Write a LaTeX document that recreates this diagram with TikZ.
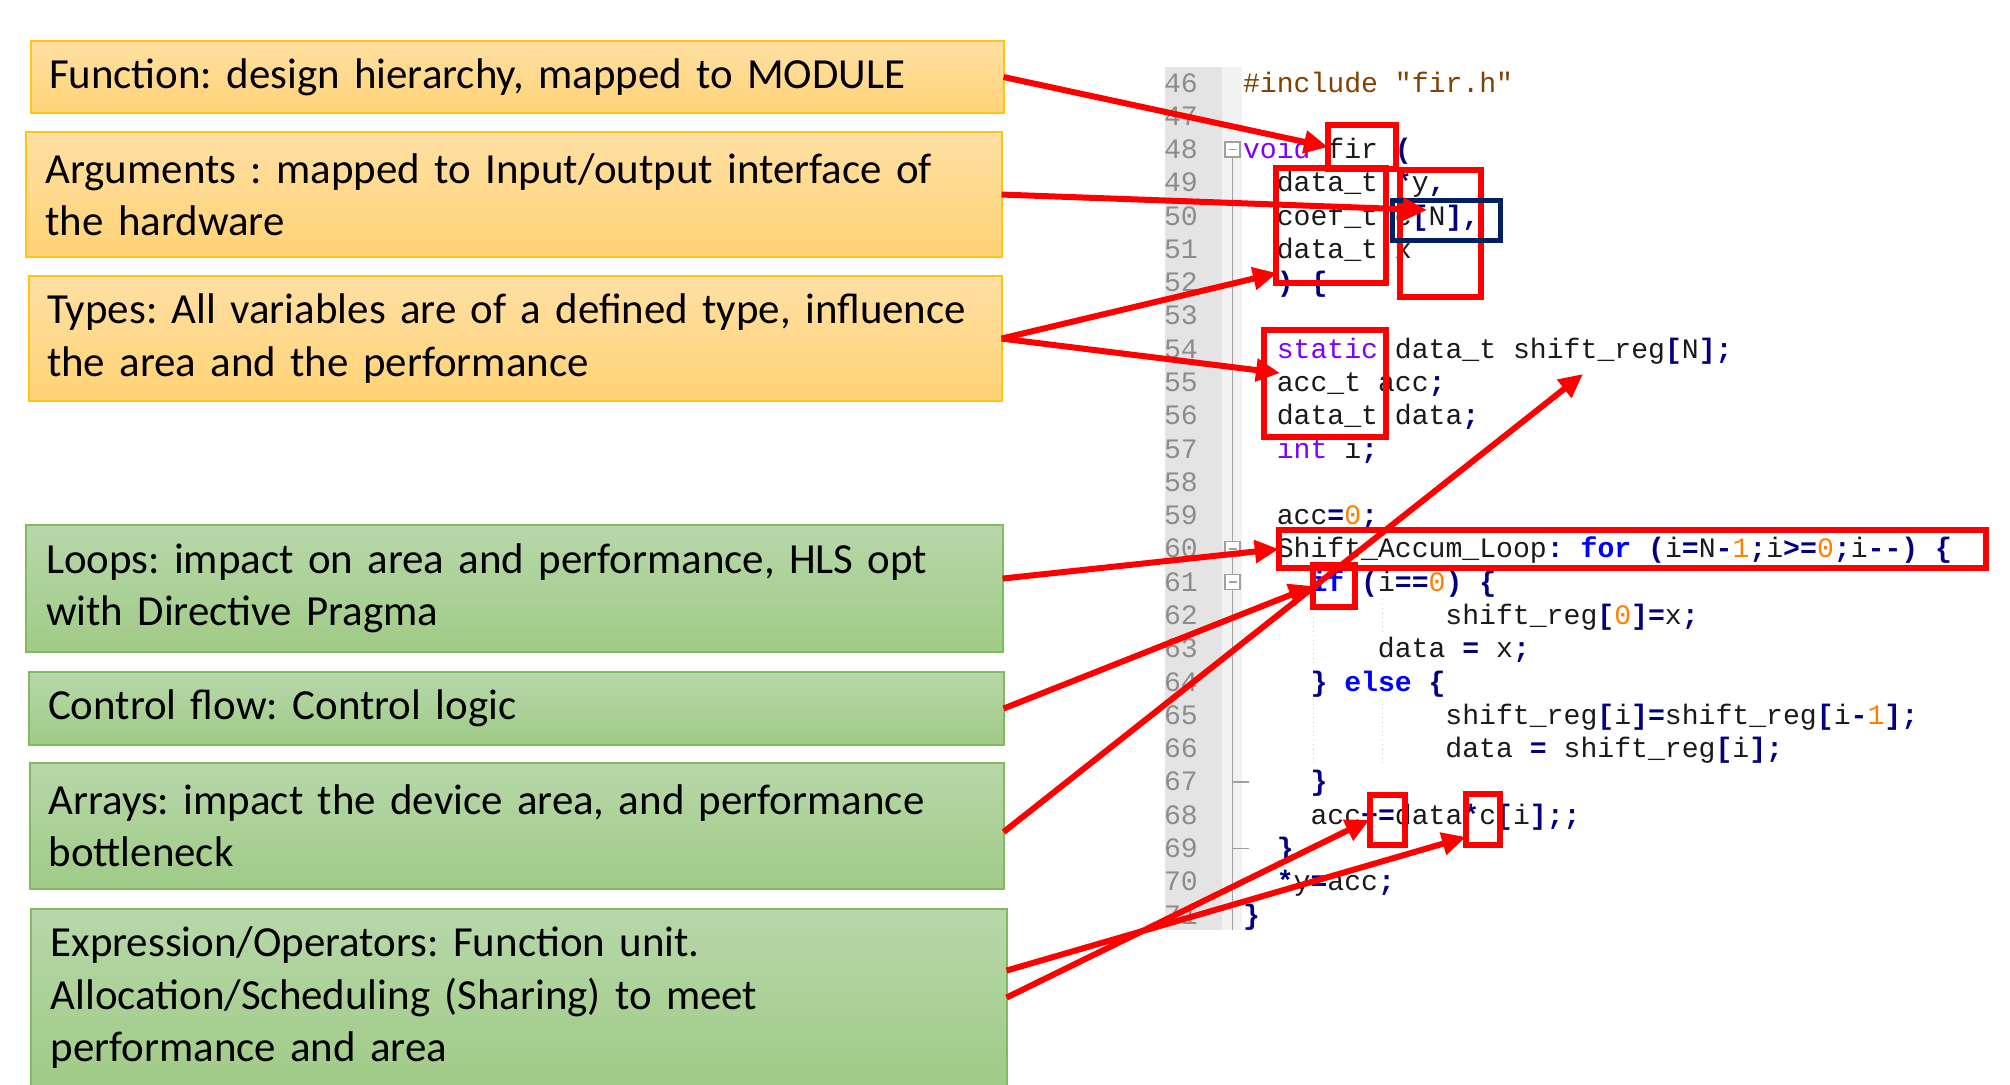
\documentclass[tikz,border=0pt]{standalone}
\usepackage{fontspec}
\setmainfont{Carlito}
\newfontfamily\codefont{Liberation Mono}
\usetikzlibrary{arrows.meta}
\usetikzlibrary{positioning}
\usetikzlibrary{math}
\frenchspacing
\definecolor{goldtop}{HTML}{FFE0A3}
\definecolor{goldbot}{HTML}{FFD276}
\definecolor{goldln}{HTML}{FFC414}
\definecolor{leaftop}{HTML}{B7D7A9}
\definecolor{leafbot}{HTML}{A0CB87}
\definecolor{leafln}{HTML}{82BB5F}
\definecolor{npptype}{HTML}{8000FF}
\definecolor{nppinstr}{HTML}{0000FF}
\definecolor{nppop}{HTML}{000080}
\definecolor{nppnum}{HTML}{FF8000}
\definecolor{npppre}{HTML}{804000}
\definecolor{nppfg}{HTML}{1A1A1A}
\definecolor{npplnum}{HTML}{8C8C8C}
\definecolor{gutter}{HTML}{E4E4E4}
\definecolor{foldbg}{HTML}{F2F2F2}
\definecolor{foldln}{HTML}{A0A0A0}
\definecolor{guideln}{HTML}{C8C8C8}
\definecolor{hlred}{HTML}{FF0000}
\definecolor{hlnavy}{HTML}{002060}
\newcommand{\kwt}[1]{\textcolor{npptype}{#1}}
\newcommand{\kwi}[1]{\textcolor{nppinstr}{\bfseries #1}}
\newcommand{\opr}[1]{\textcolor{nppop}{\bfseries #1}}
\newcommand{\cnum}[1]{\textcolor{nppnum}{#1}}
\tikzset{note/.style={draw, line width=0.2mm, inner xsep=1.8mm, inner ysep=0pt, outer sep=0pt, anchor=north west, text width=93.6mm, align=left, font=\fontsize{12.2}{14.8}\selectfont, text=black},
gold/.style={note, draw=goldln, top color=goldtop, bottom color=goldbot},
leaf/.style={note, draw=leafln, top color=leaftop, bottom color=leafbot},
code/.style={anchor=base west, inner sep=0pt, outer sep=0pt, font=\codefont\fontsize{8}{9}\selectfont, text=nppfg},
lnum/.style={code, text=npplnum},
foldbox/.style={draw=foldln, fill=white, line width=0.15mm, minimum size=1.5mm, inner sep=0pt, outer sep=0pt,
  path picture={\draw[foldln, line width=0.15mm] ([xshift=0.35mm]path picture bounding box.west) -- ([xshift=-0.35mm]path picture bounding box.east);}},
foldln/.style={draw=foldln, line width=0.15mm},
guide/.style={draw=guideln, line width=0.1mm, densely dotted},
hl/.style={draw=hlred, line width=0.6mm, inner sep=0pt, outer sep=0pt},
callout/.style={draw=hlred, line width=0.6mm, -{Triangle[length=2.4mm,width=2.2mm]}}}

\begin{document}
\begin{tikzpicture}[x=0.01cm, y=-0.01cm]
	\tikzmath{\lp=33.28; \cw=16.87; \cx=1243; \by=92;}
	\useasboundingbox (0,0) rectangle (2010,1084);
	\clip (0,0) rectangle (2010,1084);
	\fill[white] (0,0) rectangle (2010,1084);
	% editor margins
	\fill[gutter] (1165,67) rectangle (1222,930);
	\fill[foldbg] (1222,67) rectangle (1242,930);
	\draw[foldln] (1232.5,157) -- (1232.5,930);
	\draw[foldln] (1232.5,781.9) -- (1249,781.9);
	\draw[foldln] (1232.5,848.4) -- (1249,848.4);
	\node[foldbox] (fold48) at (1232.5,149.6) {};
	\node[foldbox] (fold60) at (1232.5,549) {};
	\node[foldbox] (fold61) at (1232.5,582.2) {};
	\foreach \n in {46,...,71}
		\node[lnum] (ln\n) at (1164,{\by+(\n-46)*\lp}) {\n};
	% source lines
	\node[code] (c46) at ({\cx},{\by}) {\textcolor{npppre}{\#include "fir.h"}};
	\node[code] (c48) at ({\cx},{\by+2*\lp}) {\kwt{void} fir \opr{(}};
	\node[code] (c49) at ({\cx+2*\cw},{\by+3*\lp}) {data\_t \opr{*}y\opr{,}};
	\node[code] (c50) at ({\cx+2*\cw},{\by+4*\lp}) {coef\_t c\opr{[}N\opr{],}};
	\node[code] (c51) at ({\cx+2*\cw},{\by+5*\lp}) {data\_t x};
	\node[code] (c52) at ({\cx+2*\cw},{\by+6*\lp}) {\opr{) \{}};
	\node[code] (c54) at ({\cx+2*\cw},{\by+8*\lp}) {\kwt{static} data\_t shift\_reg\opr{[}N\opr{];}};
	\node[code] (c55) at ({\cx+2*\cw},{\by+9*\lp}) {acc\_t acc\opr{;}};
	\node[code] (c56) at ({\cx+2*\cw},{\by+10*\lp}) {data\_t data\opr{;}};
	\node[code] (c57) at ({\cx+2*\cw},{\by+11*\lp}) {\kwt{int} i\opr{;}};
	\node[code] (c59) at ({\cx+2*\cw},{\by+13*\lp}) {acc\opr{=}\cnum{0}\opr{;}};
	\node[code] (c60) at ({\cx+2*\cw},{\by+14*\lp}) {Shift\_Accum\_Loop\opr{:} \kwi{for} \opr{(}i\opr{=}N\opr{-}\cnum{1}\opr{;}i\opr{>=}\cnum{0}\opr{;}i\opr{-{}-)} \opr{\{}};
	\node[code] (c61) at ({\cx+4*\cw},{\by+15*\lp}) {\kwi{if} \opr{(}i\opr{==}\cnum{0}\opr{)} \opr{\{}};
	\node[code] (c62) at ({\cx+12*\cw},{\by+16*\lp}) {shift\_reg\opr{[}\cnum{0}\opr{]=}x\opr{;}};
	\node[code] (c63) at ({\cx+8*\cw},{\by+17*\lp}) {data \opr{=} x\opr{;}};
	\node[code] (c64) at ({\cx+4*\cw},{\by+18*\lp}) {\opr{\}} \kwi{else} \opr{\{}};
	\node[code] (c65) at ({\cx+12*\cw},{\by+19*\lp}) {shift\_reg\opr{[}i\opr{]=}shift\_reg\opr{[}i\opr{-}\cnum{1}\opr{];}};
	\node[code] (c66) at ({\cx+12*\cw},{\by+20*\lp}) {data \opr{=} shift\_reg\opr{[}i\opr{];}};
	\node[code] (c67) at ({\cx+4*\cw},{\by+21*\lp}) {\opr{\}}};
	\node[code] (c68) at ({\cx+4*\cw},{\by+22*\lp}) {acc\opr{+=}data\opr{*}c\opr{[}i\opr{];;}};
	\node[code] (c69) at ({\cx+2*\cw},{\by+23*\lp}) {\opr{\}}};
	\node[code] (c70) at ({\cx+2*\cw},{\by+24*\lp}) {\opr{*}y\opr{=}acc\opr{;}};
	\node[code] (c71) at ({\cx},{\by+25*\lp}) {\opr{\}}};
	\draw[guide] (1313,599) -- (1313,665);
	\draw[guide] (1313,699) -- (1313,765);
	\draw[guide] (1382,599) -- (1382,632);
	\draw[guide] (1382,699) -- (1382,765);
	% notes
	\node[gold, minimum width=97.1mm, minimum height=7.2mm] (fnbox) at (31,41) {\mbox{Function: design hierarchy, mapped to MODULE}};
	\node[gold, minimum width=97.5mm, minimum height=12.5mm] (argbox) at (26,132) {\mbox{Arguments : mapped to Input/output interface of}\\\mbox{the hardware}};
	\node[gold, minimum width=97.2mm, minimum height=12.5mm] (typebox) at (29,276) {\mbox{Types: All variables are of a defined type, influence}\\\mbox{the area and the performance}};
	\node[leaf, minimum width=97.6mm, minimum height=12.7mm] (loopbox) at (26,525) {\mbox{Loops: impact on area and performance, HLS opt}\\\mbox{with Directive Pragma}};
	\node[leaf, minimum width=97.4mm, minimum height=7.3mm] (ctrlbox) at (29,672) {\mbox{Control flow: Control logic}};
	\node[leaf, minimum width=97.3mm, minimum height=12.6mm] (arrbox) at (30,763) {\mbox{Arrays: impact the device area, and performance}\\\mbox{bottleneck}};
	\node[leaf, minimum width=97.5mm, minimum height=17.7mm] (exprbox) at (31,909) {\mbox{Expression/Operators: Function unit.}\\\mbox{Allocation/Scheduling (Sharing) to meet}\\\mbox{performance and area}};
	% highlights
	\node[hl, minimum width=6.8mm, minimum height=4.4mm] (hlfir) at (1362,147) {};
	\node[hl, minimum width=11mm, minimum height=11.5mm] (hltype) at (1331,225.5) {};
	\node[hl, minimum width=8.1mm, minimum height=12.7mm] (hlarg) at (1440.5,233.5) {};
	\node[hl, draw=hlnavy, line width=0.5mm, minimum width=10.8mm, minimum height=4mm] (hlcn) at (1446.5,220.5) {};
	\node[hl, minimum width=12.2mm, minimum height=10.7mm] (hlstatic) at (1325,383.5) {};
	\node[hl, minimum width=70.7mm, minimum height=3.8mm] (hlloop) at (1632.5,549) {};
	\node[hl, minimum width=4.2mm, minimum height=4.2mm] (hlif) at (1334,586) {};
	\node[hl, minimum width=3.5mm, minimum height=5mm] (hlplus) at (1387,819.7) {};
	\node[hl, minimum width=3.4mm, minimum height=5.1mm] (hlstar) at (1482.7,819.5) {};
	\coordinate (tipcn) at (1427,210);
	\coordinate (tiptype) at (1277,273);
	\coordinate (tipstatic) at (1280,373);
	\coordinate (tipshift) at (1583,374);
	\coordinate (tipstar) at (1466,837);
	% callouts
	\draw[callout] (fnbox.east) -- (hlfir.west);
	\draw[callout] (argbox.east) -- (tipcn);
	\draw[callout] (typebox.east) -- (tiptype);
	\draw[callout] (typebox.east) -- (tipstatic);
	\draw[callout] ([yshift=1mm]loopbox.east) -- (hlloop.west);
	\draw[callout] (ctrlbox.east) -- (hlif.west);
	\draw[callout] ([yshift=-0.6mm]arrbox.east) -- (tipshift);
	\draw[callout] ([yshift=2.7mm]exprbox.east) -- (tipstar);
	\draw[callout] (exprbox.east) -- (hlplus.west);
\end{tikzpicture}
\end{document}
